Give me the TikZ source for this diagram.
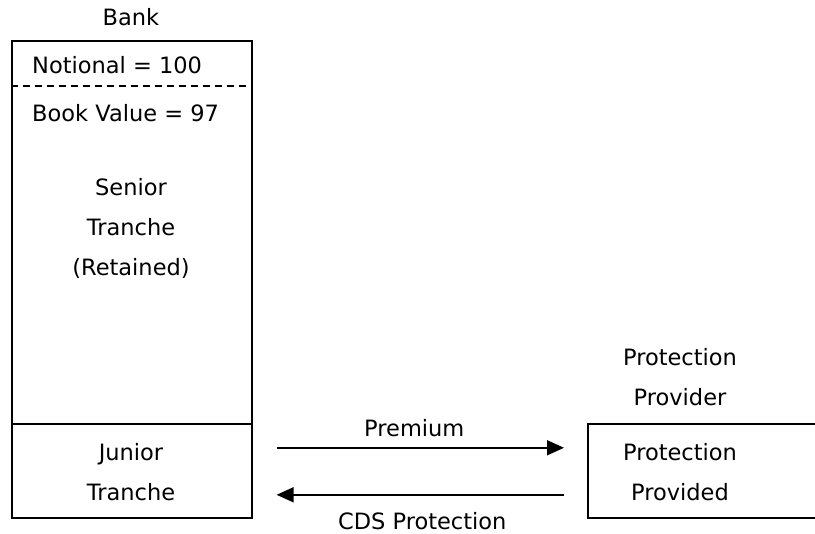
\documentclass[tikz,border=0pt]{standalone}
\usepackage{fontspec}
\setmainfont{DejaVu Sans}
\usetikzlibrary{arrows.meta}
\tikzset{
  box/.style={draw, line width=1.6pt, inner sep=0pt, anchor=north west},
  lbl/.style={font=\fontsize{22.5}{40}\selectfont, align=center, inner sep=0pt},
  arr/.style={line width=1.6pt, -{Triangle[length=17pt,width=15pt]}},
}
\begin{document}
\begin{tikzpicture}[x=1pt,y=-1pt]
  \useasboundingbox (0,0) rectangle (815,534);
  % Bank balance sheet: senior and junior tranches
  \node[box, minimum width=240pt, minimum height=383pt] (senior) at (11,40) {};
  \node[box, minimum width=240pt, minimum height=94pt] (junior) at (11,423) {};
  \draw[line width=1.1pt, dash pattern=on 7pt off 5pt] (senior.west |- 0,86) coordinate (dl) -- (senior.east |- dl);
  % Protection provider box, running off the right edge
  \node[box, minimum width=260pt, minimum height=94pt] (provider) at (587,423) {};

  \node[lbl] (bank) at (131,17) {Bank};
  \node[lbl, anchor=west] (notional) at (32,65) {Notional = 100};
  \node[lbl, anchor=west] (book) at (32,113) {Book Value = 97};
  \node[lbl] (seniortxt) at (131,228) {Senior\\Tranche\\(Retained)};
  \node[lbl] (juniortxt) at (131,472) {Junior\\Tranche};
  \node[lbl] (provname) at (680,377) {Protection\\Provider};
  \node[lbl] (provtxt) at (680,472) {Protection\\Provided};

  % Premium paid and protection received
  \draw[arr] ([xshift=24pt,yshift=23pt]junior.east) -- ([xshift=-23pt,yshift=23pt]provider.west)
    node[lbl, midway, yshift=20pt, xshift=-6pt] (premium) {Premium};
  \draw[arr] ([xshift=-23pt,yshift=-24pt]provider.west) -- ([xshift=24pt,yshift=-24pt]junior.east)
    node[lbl, midway, yshift=-26pt, xshift=2pt] (cds) {CDS Protection};
\end{tikzpicture}
\end{document}
